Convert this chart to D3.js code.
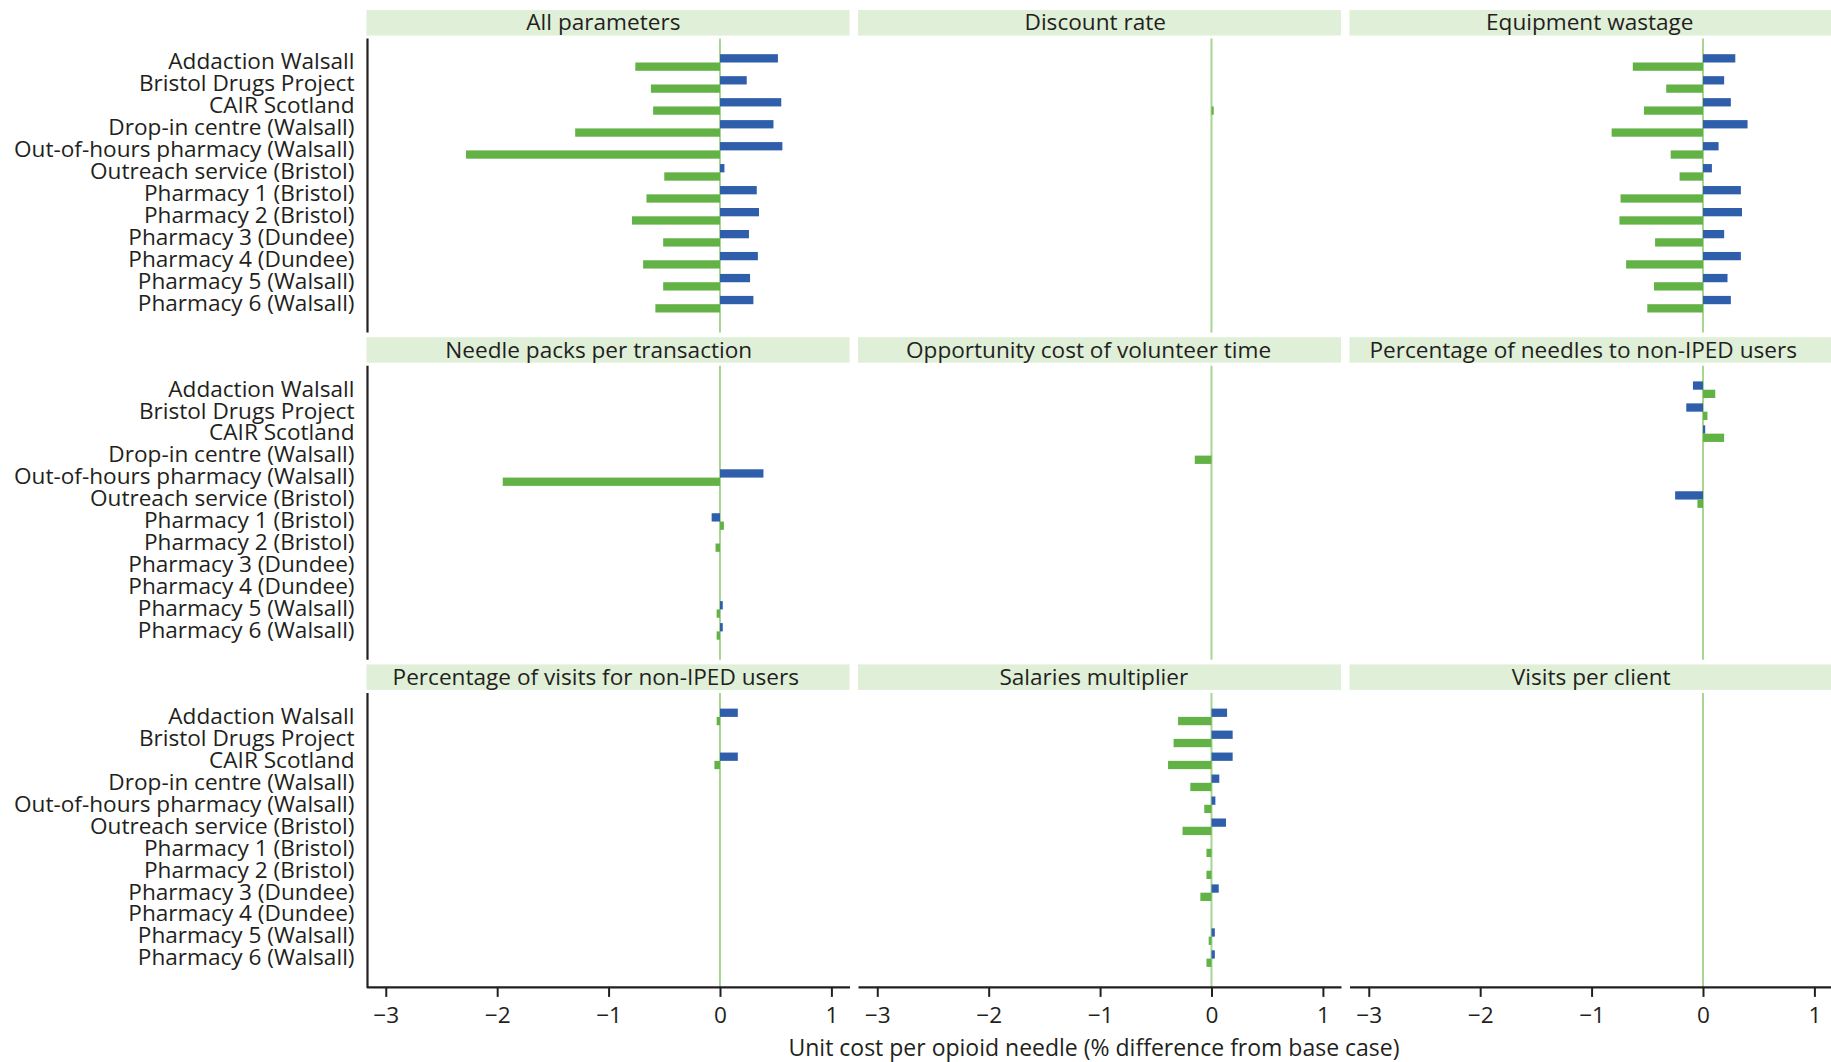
<!DOCTYPE html>
<html><head><meta charset="utf-8">
<script src="https://cdn.jsdelivr.net/npm/d3@7"></script>
<style>
html,body{margin:0;padding:0;background:#fff;}
svg{display:block;font-family:"Open Sans",sans-serif;}
</style></head><body>
<svg id="chart" width="1831" height="1062"></svg>
<script>
// ---------- data ----------
const categories = [
  "Addaction Walsall", "Bristol Drugs Project", "CAIR Scotland", "Drop-in centre (Walsall)",
  "Out-of-hours pharmacy (Walsall)", "Outreach service (Bristol)", "Pharmacy 1 (Bristol)",
  "Pharmacy 2 (Bristol)", "Pharmacy 3 (Dundee)", "Pharmacy 4 (Dundee)",
  "Pharmacy 5 (Walsall)", "Pharmacy 6 (Walsall)"
];
const panelTitles = [
  "All parameters", "Discount rate", "Equipment wastage",
  "Needle packs per transaction", "Opportunity cost of volunteer time", "Percentage of needles to non-IPED users",
  "Percentage of visits for non-IPED users", "Salaries multiplier", "Visits per client"
];
const xTickValues = [-3, -2, -1, 0, 1];
const xAxisTitle = "Unit cost per opioid needle (% difference from base case)";

// blue = upper bar of each pair, green = lower bar of each pair (null = no bar)
const allParametersBlue  = [0.52, 0.24, 0.55, 0.48, 0.56, 0.04, 0.33, 0.35, 0.26, 0.34, 0.27, 0.30];
const allParametersGreen = [-0.76, -0.62, -0.60, -1.30, -2.28, -0.50, -0.66, -0.79, -0.51, -0.69, -0.51, -0.58];
const discountRateBlue   = [null, null, null, null, null, null, null, null, null, null, null, null];
const discountRateGreen  = [null, null, 0.02, null, null, null, null, null, null, null, null, null];
const equipmentBlue      = [0.29, 0.19, 0.25, 0.40, 0.14, 0.08, 0.34, 0.35, 0.19, 0.34, 0.22, 0.25];
const equipmentGreen     = [-0.63, -0.33, -0.53, -0.82, -0.29, -0.21, -0.74, -0.75, -0.43, -0.69, -0.44, -0.50];
const needlePacksBlue    = [null, null, null, null, 0.39, null, -0.075, null, null, null, 0.025, 0.025];
const needlePacksGreen   = [null, null, null, null, -1.95, null, 0.035, -0.04, null, null, -0.03, -0.03];
const volunteerBlue      = [null, null, null, null, null, null, null, null, null, null, null, null];
const volunteerGreen     = [null, null, null, -0.15, null, null, null, null, null, null, null, null];
const pctNeedlesBlue     = [-0.09, -0.15, 0.02, null, null, -0.25, null, null, null, null, null, null];
const pctNeedlesGreen    = [0.11, 0.04, 0.19, null, null, -0.05, null, null, null, null, null, null];
const pctVisitsBlue      = [0.16, null, 0.16, null, null, null, null, null, null, null, null, null];
const pctVisitsGreen     = [-0.03, null, -0.05, null, null, null, null, null, null, null, null, null];
const salariesBlue       = [0.14, 0.19, 0.19, 0.07, 0.035, 0.13, null, null, 0.065, null, 0.03, 0.03];
const salariesGreen      = [-0.30, -0.34, -0.39, -0.19, -0.065, -0.26, -0.045, -0.045, -0.10, null, -0.025, -0.045];
const visitsBlue         = [null, null, null, null, null, null, null, null, null, null, null, null];
const visitsGreen        = [null, null, null, null, null, null, null, null, null, null, null, null];

const panelBlue  = [allParametersBlue, discountRateBlue, equipmentBlue, needlePacksBlue, volunteerBlue, pctNeedlesBlue, pctVisitsBlue, salariesBlue, visitsBlue];
const panelGreen = [allParametersGreen, discountRateGreen, equipmentGreen, needlePacksGreen, volunteerGreen, pctNeedlesGreen, pctVisitsGreen, salariesGreen, visitsGreen];

// ---------- layout ----------
const BLUE = "#2f5eab", GREEN = "#62b246", STRIP = "#e0efd8", ZERO = "#a8d692", INK = "#231f20";
const left0 = 366.5, colStride = 491.5, panelW = 483;
const top0 = 38.5, rowStride = 327.2, panelH = 294;
const stripH = 25.5, stripGap = 3;
const barH = 8.3;
const FS = 22.6;

const svg = d3.select("#chart");
svg.append("rect").attr("width", 1831).attr("height", 1062).attr("fill", "#fff");

const x = d3.scaleLinear().domain([-3.173, 1.1625]).range([0, panelW]);
const y = d3.scalePoint().domain(categories).range([24, 265.7]);

panelTitles.forEach((title, i) => {
  const col = i % 3, row = Math.floor(i / 3);
  const px = left0 + col * colStride, py = top0 + row * rowStride;
  // the right-hand column is cut off by the picture edge in the original
  const stripW = col === 2 ? panelW + 10 : panelW;

  // strip
  const s = svg.append("g").attr("transform", `translate(${px},${py - stripGap - stripH})`);
  s.append("rect").attr("width", stripW).attr("height", stripH).attr("fill", STRIP);
  const st = s.append("text").attr("y", stripH / 2).attr("dy", "0.34em")
    .attr("text-anchor", "start").attr("font-size", FS).attr("fill", INK).text(title);
  const tw = st.node().getComputedTextLength();
  st.attr("x", stripW / 2 - tw / 2 - 0.03 * tw);

  const g = svg.append("g").attr("transform", `translate(${px},${py})`);

  // zero reference line
  g.append("line").attr("x1", x(0)).attr("x2", x(0)).attr("y1", 0).attr("y2", panelH)
    .attr("stroke", ZERO).attr("stroke-width", 2);

  const rows = categories.map((c, k) => ({c, b: panelBlue[i][k], gr: panelGreen[i][k]}));
  g.selectAll("rect.blue").data(rows.filter(d => d.b !== null)).join("rect")
    .attr("class", "blue")
    .attr("x", d => x(Math.min(0, d.b))).attr("width", d => Math.abs(x(d.b) - x(0)))
    .attr("y", d => y(d.c) - barH).attr("height", barH).attr("fill", BLUE);
  g.selectAll("rect.green").data(rows.filter(d => d.gr !== null)).join("rect")
    .attr("class", "green")
    .attr("x", d => x(Math.min(0, d.gr))).attr("width", d => Math.abs(x(d.gr) - x(0)))
    .attr("y", d => y(d.c)).attr("height", barH).attr("fill", GREEN);

  // y axis on first column
  if (col === 0) {
    const ya = g.append("g").call(d3.axisLeft(y).tickSize(0).tickPadding(12));
    ya.select(".domain").remove();
    ya.selectAll("text").attr("font-size", FS).attr("fill", INK).attr("font-family", "Open Sans").attr("dy", "0.28em");
    g.append("line").attr("x1", 1).attr("x2", 1).attr("y1", 0).attr("y2", panelH + (row === 2 ? 1 : 0))
      .attr("stroke", INK).attr("stroke-width", 2.2);
  }
  // x axis on bottom row
  if (row === 2) {
    const xa = g.append("g").attr("transform", `translate(0,${panelH})`)
      .call(d3.axisBottom(x).tickValues(xTickValues).tickFormat(d3.format("d"))
        .tickSize(10).tickSizeOuter(0).tickPadding(10));
    xa.select(".domain").attr("stroke", INK).attr("stroke-width", 2.2);
    xa.selectAll(".tick line").attr("stroke", INK).attr("stroke-width", 2);
    xa.selectAll("text").attr("font-size", FS).attr("fill", INK).attr("font-family", "Open Sans");
  }
});

svg.append("text").attr("x", 1094).attr("y", 1056).attr("text-anchor", "middle")
  .attr("font-size", 23).attr("fill", INK).text(xAxisTitle);
</script>
</body></html>
